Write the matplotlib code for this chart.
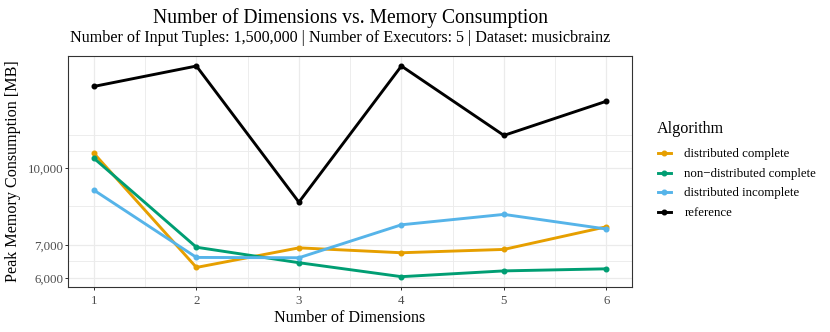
import numpy as np
import matplotlib
matplotlib.use("Agg")
import matplotlib.pyplot as plt
from matplotlib.lines import Line2D
from matplotlib.ticker import FixedLocator, NullFormatter, FixedFormatter

# ---------------- data ----------------
dims = [1, 2, 3, 4, 5, 6]
algorithms = ["distributed complete", "non\u2212distributed complete",
              "distributed incomplete", "reference"]
distributed_complete = [10700, 6300, 6900, 6745, 6850, 7610]
non_distributed_complete = [10460, 6920, 6440, 6036, 6200, 6260]
distributed_incomplete = [9020, 6600, 6590, 7680, 8060, 7530]
reference = [14600, 16050, 8530, 16050, 11630, 13630]
y_ticks = [6000, 7000, 10000]
y_tick_labels = ["6,000", "7,000", "10,000"]
x_ticks = [1, 2, 3, 4, 5, 6]
colors = ["#E69F00", "#009E73", "#56B4E9", "#000000"]

title = "Number of Dimensions vs. Memory Consumption"
subtitle = "Number of Input Tuples: 1,500,000 | Number of Executors: 5 | Dataset: musicbrainz"
xlabel = "Number of Dimensions"
ylabel = "Peak Memory Consumption [MB]"
legend_title = "Algorithm"

series = [distributed_complete, non_distributed_complete, distributed_incomplete, reference]

# ---------------- style ----------------
plt.rcParams['font.family'] = ['Liberation Serif', 'DejaVu Serif']
W, H = 830, 332
PT = 0.72  # points per pixel at dpi 100

fig = plt.figure(figsize=(W / 100, H / 100), dpi=100)
def fx(px): return px / W
def fy(py): return 1 - py / H

L, R, T, B = 68.3, 632.0, 55.5, 287.2
ax = fig.add_axes([fx(L), fy(B), fx(R) - fx(L), fy(T) - fy(B)])

for i, (vals, col) in enumerate(zip(series, colors)):
    ax.plot(dims, vals, color=col, lw=2.9 * PT, marker='o', ms=4.6 * PT,
            mec=col, mfc=col, solid_joinstyle='miter', zorder=3 + i)

ax.set_yscale('log')
all_vals = np.concatenate([np.asarray(s, float) for s in series])
lo, hi = np.log10(all_vals.min()), np.log10(all_vals.max())
pad = 0.05 * (hi - lo)
ax.set_ylim(10 ** (lo - pad), 10 ** (hi + pad))
ax.set_xlim(1 - 0.05 * 5, 6 + 0.05 * 5)

# major / minor breaks (ggplot-style minor breaks in log space)
lt = np.log10(y_ticks)
d = lt[1] - lt[0]
ext = np.concatenate([[lt[0] - d], lt, [lt[-1] + d]])
minor_y = []
for a, b in zip(ext[:-1], ext[1:]):
    minor_y += [(a + b) / 2]
minor_y += [ext[0], ext[-1]]
minor_y = [10 ** v for v in minor_y]

ax.yaxis.set_major_locator(FixedLocator(y_ticks))
ax.yaxis.set_major_formatter(FixedFormatter(y_tick_labels))
ax.yaxis.set_minor_locator(FixedLocator(minor_y))
ax.yaxis.set_minor_formatter(NullFormatter())
ax.set_xticks(x_ticks)
ax.set_xticklabels([str(v) for v in x_ticks])
ax.set_xticks([1.5, 2.5, 3.5, 4.5, 5.5], minor=True)

ax.set_axisbelow(True)
ax.grid(which='major', color='#EBEBEB', lw=1.2 * PT)
ax.grid(which='minor', color='#EBEBEB', lw=0.9 * PT)
ax.tick_params(which='minor', length=0)
ax.tick_params(which='major', length=3 * PT, width=1.0 * PT, color='#333333',
               labelcolor='#4D4D4D', labelsize=12.9 * PT)
ax.tick_params(axis='y', pad=2 * PT)
ax.tick_params(axis='x', pad=4.5 * PT)
for s in ax.spines.values():
    s.set_color('#333333')
    s.set_linewidth(1.1 * PT)

# ---------------- texts ----------------
base = 16.1 * PT
fig.text(fx(350.5), fy(23.5), title, ha='center', va='baseline', fontsize=19.7 * PT)
fig.text(fx(340.2), fy(42.5), subtitle, ha='center', va='baseline', fontsize=base)
fig.text(fx(350), fy(322.5), xlabel, ha='center', va='baseline', fontsize=base)
fig.text(fx(17.2), fy(171.4), ylabel, ha='center', va='baseline', rotation=90,
         rotation_mode='anchor', fontsize=base)

# ---------------- legend ----------------
fig.text(fx(657), fy(132.5), legend_title, ha='left', va='baseline', fontsize=base)
row_y = [152.9, 172.6, 192.3, 212.0]
for lab, col, yy in zip(algorithms, colors, row_y):
    fig.add_artist(Line2D([fx(657.5), fx(671)], [fy(yy), fy(yy)], color=col,
                          lw=2.9 * PT, transform=fig.transFigure))
    fig.add_artist(Line2D([fx(664.2)], [fy(yy)], color=col, marker='o',
                          ms=4.6 * PT, transform=fig.transFigure))
    fig.text(fx(684.3), fy(yy + 4.0), lab, ha='left', va='baseline', fontsize=12.9 * PT)

fig.savefig("out.png", dpi=100)
